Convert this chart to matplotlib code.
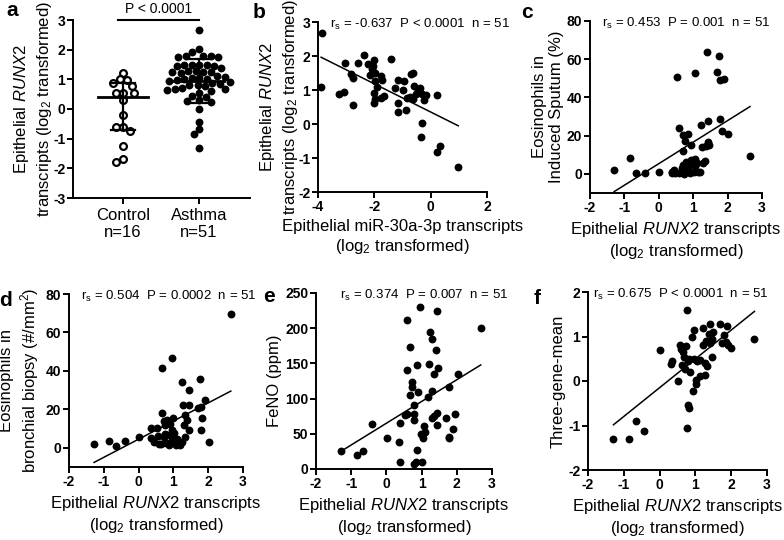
import matplotlib
matplotlib.use("Agg")
import matplotlib.pyplot as plt
import numpy as np

plt.rcParams['font.family'] = ['Liberation Sans', 'DejaVu Sans']
plt.rcParams['mathtext.fontset'] = 'custom'
plt.rcParams['mathtext.rm'] = 'Liberation Sans'
plt.rcParams['mathtext.it'] = 'Liberation Sans:italic'
plt.rcParams['mathtext.bf'] = 'Liberation Sans:bold'

# ---- panel a: RUNX2 in control vs asthma ----
control_runx2 = [1.22, 1.00, 0.87, 0.98, 0.78, 0.55, 0.55, 0.55, 0.30,
                 -0.20, -0.60, -0.60, -0.73, -1.24, -1.78, -1.70]
asthma_runx2 = [2.66, 2.01, 1.91, 1.80, 1.78, 1.76, 1.78, 1.75,
                1.50, 1.48, 1.46, 1.48, 1.45, 1.50,
                1.28, 1.26, 1.24, 1.27, 1.25, 1.22,
                1.05, 1.03, 1.00, 1.02, 1.08, 0.98,
                0.84, 0.81, 0.80, 0.78, 0.86,
                0.68, 0.65, 0.66, 0.62, 0.70,
                0.45, 0.42, 0.30, 0.28, 0.25,
                0.92, 0.95, 1.12, 0.55, 1.38,
                -0.01, -0.43, -0.68, -0.84, -1.30]
groups = ['Control\nn=16', 'Asthma\nn=51']
medians = [0.40, 0.94]
q1 = [-0.71, 0.21]
q3 = [0.87, 1.70]

# ---- panel b ----
b_mir = [-3.87, -3.89, -2.37, -1.42, -3.04, -2.57, -2.21, -2.05, -2.01, -2.82,
         -2.74, -2.17, -1.96, -1.78, -1.72, -1.96, -3.25, -3.09, -2.77, -2.01,
         -1.96, -2.01, -1.78, -1.66, -1.15, -0.95, -0.71, -0.63, -1.27, -0.98,
         -0.59, -0.39, -0.32, -0.53, -0.75, -0.63, -0.24, -0.18, 0.24, -1.15,
         -1.15, -0.89, -0.32, -0.33, 0.32, 0.21, 0.98, -2.10, -0.45, -1.90, -0.85]
b_runx2 = [2.67, 1.08, 2.03, 1.92, 1.79, 1.80, 1.76, 1.71, 1.87, 1.47,
           1.35, 1.45, 1.50, 1.41, 1.30, 1.25, 0.89, 0.95, 0.56, 0.92,
           0.73, 0.61, 0.76, 0.81, 1.30, 1.27, 1.47, 1.51, 1.07, 1.00,
           1.12, 1.07, 0.88, 0.88, 0.79, 0.74, 0.71, 0.86, 0.86, 0.63,
           0.36, 0.41, 0.04, -0.39, -0.65, -0.82, -1.27, 1.62, 1.00, 1.10, 0.75]

# ---- panel c ----
c_runx2 = [1.39, 1.75, 0.52, 1.05, 1.68, 1.78, 1.90, 2.65, -1.30, -0.84,
           -0.66, -0.40, 0.01, 0.59, 1.24, 1.43, 1.78, 1.85, 2.02, 0.71,
           0.85, 0.76, 0.95, 1.26, 1.43, 1.38, 0.71, 0.37, 0.39, 0.58,
           0.71, 0.80, 0.95, 1.05, 1.29, 0.76, 0.85, 0.92, 1.02, 1.14,
           1.21, 0.66, 0.48, 0.85, 1.05, 1.34, 0.45, 0.90, 1.10, 0.72, 1.45]
c_eos = [64.0, 61.9, 50.9, 52.6, 53.5, 49.2, 49.7, 9.1, 2.1, 8.5,
         0.7, 0.7, 1.2, 23.9, 25.6, 27.7, 28.6, 22.5, 20.9, 20.4,
         20.9, 17.3, 15.2, 14.3, 16.6, 14.5, 12.0, 1.2, 0.3, 0.3,
         4.7, 6.4, 7.3, 7.8, 5.6, 1.2, 2.0, 0.3, 1.2, 1.2,
         1.0, 3.0, 0.3, 3.5, 4.0, 6.8, 1.8, 5.0, 5.5, 0.2, 15.0]

# ---- panel d ----
d_runx2 = [2.65, 0.95, 0.68, 1.26, 1.75, 1.45, 1.91, 1.29, 1.45, 1.72,
           1.80, 0.68, 1.34, 1.83, 1.39, 0.72, 0.83, 1.00, 0.77, 0.91,
           0.36, 0.52, 0.01, 0.36, 0.45, 0.59, 0.72, 0.83, 0.95, 1.03,
           0.86, 1.15, 1.24, 1.34, 1.45, 1.80, 2.03, -1.28, -0.84, -0.66,
           -0.40, 0.57, 0.65, 0.78, 0.92, 1.08, 1.20, 0.75, 1.10, 1.30, 0.95]
d_eos = [69.4, 46.5, 41.3, 34.4, 35.6, 30.0, 24.8, 22.2, 22.2, 20.5,
         21.0, 18.2, 17.0, 15.3, 14.5, 13.8, 14.5, 15.3, 12.0, 12.5,
         10.4, 10.4, 5.7, 4.9, 3.1, 2.2, 5.7, 6.6, 5.7, 7.5,
         1.4, 2.2, 3.1, 5.7, 9.2, 9.2, 3.1, 1.9, 3.6, 0.8,
         3.6, 6.0, 1.8, 2.5, 3.0, 1.2, 1.5, 7.0, 4.5, 12.0, 9.0]

# ---- panel e ----
e_runx2 = [0.95, 1.45, 0.58, 2.68, 1.24, 1.29, 1.41, 0.67, 0.86, 0.58,
           1.21, 1.48, 1.36, 2.02, 0.74, 0.72, 0.68, 0.90, 1.79, 1.29,
           1.17, 0.79, 0.58, 0.52, 0.79, -0.42, 0.39, 0.79, 1.36, 1.45,
           1.70, 1.94, 1.30, 1.45, 1.07, 1.88, 1.10, 0.97, 1.04, 1.77,
           1.79, 0.01, 0.35, -1.30, -0.84, -0.67, 0.86, 0.39, 0.79, 0.85, 1.02]
e_feno = [230, 225, 211, 200, 195, 184, 169, 174, 148, 140,
          149, 144, 135, 135, 124, 117, 105, 109, 117, 111,
          102, 91, 78, 77, 78, 64, 65, 70, 75, 79,
          73, 78, 72, 62, 61, 57, 52, 50, 44, 45,
          44, 44, 39, 25, 20, 26, 27, 10, 7, 10, 10]

# ---- panel f ----
f_runx2 = [0.76, 2.65, 0.01, -1.29, -0.85, -0.67, -0.43, 0.76, 0.80, 0.82,
           0.94, 0.51, 1.02, 1.02, 1.46, 0.71, 0.85, 0.36, 0.32, 0.69,
           0.82, 0.64, 0.56, 0.61, 0.74, 0.90, 0.97, 1.22, 1.41, 1.69,
           1.89, 1.80, 1.85, 1.92, 2.00, 1.13, 1.27, 1.32, 1.13, 1.27,
           1.38, 1.45, 1.30, 1.40, 1.20, 1.50, 0.80, 0.95, 1.05, 0.62, 1.75]
f_three = [1.59, 0.94, 0.70, -1.31, -1.31, -0.91, -1.12, -1.06, -0.54, -0.61,
           -0.22, -0.01, -0.07, 0.03, 0.53, 0.27, 0.21, 0.44, 0.38, 0.55,
           0.50, 0.66, 0.80, 0.72, 0.78, 1.00, 1.14, 1.20, 1.27, 1.29,
           1.23, 1.04, 0.88, 0.80, 0.75, 0.48, 0.41, 0.33, 0.11, 0.14,
           1.05, 0.95, 0.90, 0.85, 0.80, 1.10, 0.45, 0.50, 0.45, 0.35, 0.85]

# regression lines: (slope, intercept)
fit_b = (-0.414, 0.353)
fit_c = (11.27, 5.35)
fit_d = (9.44, 4.47)
fit_e = (30.9, 65.0)
fit_f = (0.647, -0.15)

stats_b = r"r$_\mathrm{s}$ = -0.637  P < 0.0001  n = 51"
stats_c = r"r$_\mathrm{s}$ = 0.453  P = 0.001  n = 51"
stats_d = r"r$_\mathrm{s}$ = 0.504  P = 0.0002  n = 51"
stats_e = r"r$_\mathrm{s}$ = 0.374  P = 0.007  n = 51"
stats_f = r"r$_\mathrm{s}$ = 0.675  P < 0.0001  n = 51"

runx2_label = "Epithelial $\\mathit{RUNX2}$ transcripts\n(log$_2$ transformed)"

W, H = 784, 540
fig = plt.figure(figsize=(W / 100, H / 100), dpi=100)
DOT = 32


def add_ax(left, top, right, bottom):
    # pixel box -> figure fraction
    return fig.add_axes([left / W, 1 - bottom / H, (right - left) / W, (bottom - top) / H])


def style(ax, xt, yt):
    for s in ['top', 'right']:
        ax.spines[s].set_visible(False)
    for s in ['left', 'bottom']:
        ax.spines[s].set_linewidth(1.4)
    ax.tick_params(width=1.4, length=4, pad=1.5)
    ax.set_xticks(xt)
    ax.set_xticklabels([f"{t:g}" for t in xt], fontweight='bold', fontsize=10)
    ax.set_yticks(yt)
    ax.set_yticklabels([f"{t:g}" for t in yt], fontweight='bold', fontsize=10)


def two_line_ylabel(ax, line1, line2, x1, x2):
    # each line as its own rotated text, x in axes fraction
    ax.text(x1, 0.5, line1, rotation=90, transform=ax.transAxes, fontsize=12, ha='center', va='center')
    ax.text(x2, 0.5, line2, rotation=90, transform=ax.transAxes, fontsize=12, ha='center', va='center')


def scatter_panel(ax, x, y, fit, stats, sx, xlim, ylim, xt, yt):
    x = np.array(x)
    ax.scatter(x, y, s=DOT, color='black', zorder=3, clip_on=False, linewidths=0)
    xx = np.array([x.min(), x.max()])
    ax.plot(xx, fit[0] * xx + fit[1], color='black', lw=1.1)
    ax.set_xlim(xlim)
    ax.set_ylim(ylim)
    style(ax, xt, yt)
    ax.text(sx, 0.985, stats, transform=ax.transAxes, fontsize=9.5, va='center', ha='left')


# ---- a ----
axa = add_ax(73, 20, 250, 198)
dxpx, dypx, dia = 76.0, 29.7, 7.2


def swarm(vals, center):
    placed = []
    xs = np.zeros(len(vals))
    offs = sorted(np.arange(-60, 60.5, 0.5), key=abs)
    for i in np.argsort(vals)[::-1]:
        py = vals[i] * dypx
        for o in offs:
            if all((o - px) ** 2 + (py - qy) ** 2 >= dia ** 2 for px, qy in placed):
                placed.append((o, py))
                xs[i] = center + o / dxpx
                break
    return xs


xc = swarm(np.array(control_runx2), 0)
xa = swarm(np.array(asthma_runx2), 1)
axa.scatter(xc, control_runx2, s=24, facecolor='white', edgecolor='black', linewidth=1.6, zorder=3)
axa.scatter(xa, asthma_runx2, s=DOT, color='black', zorder=3, linewidths=0)
for i in range(2):
    axa.plot([i, i], [q1[i], q3[i]], color='black', lw=1.6, zorder=4)
    axa.plot([i - 0.335, i + 0.335], [medians[i], medians[i]], color='black', lw=2.0, zorder=4)
    for q in (q1[i], q3[i]):
        axa.plot([i - 0.16, i + 0.16], [q, q], color='black', lw=1.6, zorder=4)
axa.set_xlim(-0.658, 1.671)
axa.set_ylim(-3, 3)
style(axa, [0, 1], range(-3, 4))
axa.set_xticklabels(groups, fontweight='normal', fontsize=12)
axa.tick_params(axis='x', pad=3)
axa.plot([-0.07, 1.0], [3.0, 3.0], color='black', lw=1.5, clip_on=False)
axa.text(0.47, 3.12, "P < 0.0001", fontsize=10, ha='center', va='bottom')
two_line_ylabel(axa, "Epithelial $\\mathit{RUNX2}$", "transcripts (log$_2$ transformed)", -0.29, -0.16)

# ---- b ----
axb = add_ax(318, 22, 487, 192)
scatter_panel(axb, b_mir, b_runx2, fit_b, stats_b, 0.07, (-4, 2), (-2, 3), [-4, -2, 0, 2], range(-2, 4))
two_line_ylabel(axb, "Epithelial $\\mathit{RUNX2}$", "transcripts (log$_2$ transformed)", -0.30, -0.165)
axb.set_xlabel("Epithelial miR-30a-3p transcripts\n(log$_2$ transformed)", fontsize=12, labelpad=4)

# ---- c ----
axc = add_ax(590, 21, 762, 193)
scatter_panel(axc, c_runx2, c_eos, fit_c, stats_c, 0.07, (-2, 3), (-10, 80), range(-2, 4), range(0, 81, 20))
axc.set_ylabel("Eosinophils in\nInduced Sputum (%)", fontsize=12, labelpad=2)
axc.set_xlabel(runx2_label, fontsize=12, labelpad=4)

# ---- d ----
axd = add_ax(69, 294, 243, 467)
scatter_panel(axd, d_runx2, d_eos, fit_d, stats_d, 0.067, (-2, 3), (-10, 80), range(-2, 4), range(0, 81, 20))
two_line_ylabel(axd, "Eosinophils in", "bronchial biopsy (#/mm$^2$)", -0.36, -0.225)
axd.set_xlabel(runx2_label, fontsize=12, labelpad=4)

# ---- e ----
axe = add_ax(316, 293, 492, 469)
scatter_panel(axe, e_runx2, e_feno, fit_e, stats_e, 0.136, (-2, 3), (0, 250), range(-2, 4), range(0, 251, 50))
axe.set_ylabel("FeNO (ppm)", fontsize=12, labelpad=2)
axe.set_xlabel(runx2_label, fontsize=12, labelpad=4)

# ---- f ----
axf = add_ax(588, 292, 767, 470)
scatter_panel(axf, f_runx2, f_three, fit_f, stats_f, 0.028, (-2, 3), (-2, 2), range(-2, 4), range(-2, 3))
axf.set_ylabel("Three-gene-mean", fontsize=12, labelpad=2)
axf.set_xlabel(runx2_label, fontsize=12, labelpad=4)

for lab, (px, py) in zip('abcdef', [(12, 10), (259, 12), (527, 12), (6, 300), (269, 297), (537, 299)]):
    fig.text(px / W, 1 - py / H, lab, fontsize=15, fontweight='bold', ha='center', va='center')

fig.savefig('out.png', dpi=100)
